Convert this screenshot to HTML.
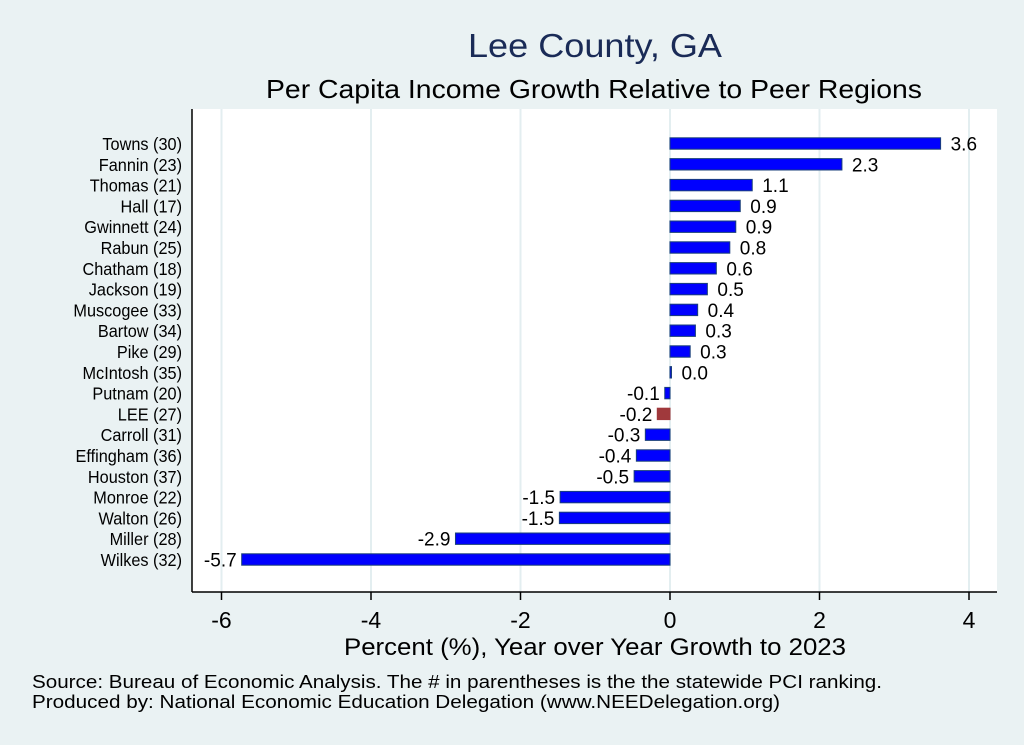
<!DOCTYPE html>
<html><head><meta charset="utf-8"><style>
body{margin:0;background:#eaf2f3;}
svg{display:block;font-family:"Liberation Sans",Arial,sans-serif;}
</style></head><body>
<svg id="chart" width="1024" height="745" viewBox="0 0 1024 745">
<rect x="0" y="0" width="1024" height="745" fill="#eaf2f3"/>
<text x="468" y="57" font-size="33" fill="#1a2b57" textLength="254" lengthAdjust="spacingAndGlyphs">Lee County, GA</text>
<text x="266" y="98" font-size="26" fill="#000" textLength="656" lengthAdjust="spacingAndGlyphs">Per Capita Income Growth Relative to Peer Regions</text>
<rect x="192" y="109" width="805" height="483" fill="#fff"/>
<g id="grid"></g>
<g id="bars"></g>
<line x1="192" y1="109" x2="192" y2="592" stroke="#000" stroke-width="1.5"/>
<line x1="192" y1="592" x2="997" y2="592" stroke="#000" stroke-width="1.5"/>
<g id="xticks"></g>
<text x="344" y="655" font-size="24" textLength="502" lengthAdjust="spacingAndGlyphs">Percent (%), Year over Year Growth to 2023</text>
<text x="32" y="688" font-size="18" textLength="850" lengthAdjust="spacingAndGlyphs">Source: Bureau of Economic Analysis. The # in parentheses is the the statewide PCI ranking.</text>
<text x="32" y="708" font-size="18" textLength="748" lengthAdjust="spacingAndGlyphs">Produced by: National Economic Education Delegation (www.NEEDelegation.org)</text>
</svg>
<script>
const categories=["Towns (30)","Fannin (23)","Thomas (21)","Hall (17)","Gwinnett (24)","Rabun (25)","Chatham (18)","Jackson (19)","Muscogee (33)","Bartow (34)","Pike (29)","McIntosh (35)","Putnam (20)","LEE (27)","Carroll (31)","Effingham (36)","Houston (37)","Monroe (22)","Walton (26)","Miller (28)","Wilkes (32)"];
const values=[3.62,2.3,1.1,0.94,0.88,0.8,0.62,0.5,0.37,0.34,0.27,0.02,-0.07,-0.17,-0.33,-0.45,-0.48,-1.47,-1.48,-2.87,-5.73];
const valueLabels=["3.6","2.3","1.1","0.9","0.9","0.8","0.6","0.5","0.4","0.3","0.3","0.0","-0.1","-0.2","-0.3","-0.4","-0.5","-1.5","-1.5","-2.9","-5.7"];
const highlight="LEE (27)";
const xTicks=[-6,-4,-2,0,2,4];
const NS="http://www.w3.org/2000/svg";
function xs(v){return 670+v*74.75;}
function ys(i){return 143.5+i*20.8;}
function mk(tag,attrs,parent,text){const e=document.createElementNS(NS,tag);for(const k in attrs)e.setAttribute(k,attrs[k]);if(text!==undefined)e.textContent=text;parent.appendChild(e);return e;}
const grid=document.getElementById('grid'),bars=document.getElementById('bars'),xt=document.getElementById('xticks');
xTicks.forEach(t=>{
  const g=mk('line',{x1:xs(t),x2:xs(t),y1:109,y2:592,stroke:'#e3eef0','stroke-width':2},grid);
  
  
  const tk=mk('line',{x1:xs(t),x2:xs(t),y1:592,y2:600,stroke:'#000','stroke-width':1.5},xt);
  
  
  const tl=mk('text',{x:xs(t),y:628,'font-size':23,'text-anchor':'middle'},xt,String(t));
  
  
});
categories.forEach((c,i)=>{
  const v=values[i],y=ys(i),x0=xs(0),x1=xs(v);
  const isH=c===highlight;
  const r=mk('rect',{x:Math.min(x0,x1),y:y-5.7,width:Math.max(Math.abs(x1-x0),1.5),height:11.4,fill:isH?'#a0393c':'#0000ff',stroke:isH?'#a0393c':'#1a3f7a','stroke-width':1},bars);
  
  
  const cl=mk('text',{x:182,y:y+6.5,'font-size':17.5,'text-anchor':'end'},bars,c);
  
  
  const w=cl.getComputedTextLength();
  if(w>0){cl.setAttribute('textLength',(w*0.93).toFixed(1));cl.setAttribute('lengthAdjust','spacingAndGlyphs');}
  const vl=mk('text',{x:v>=0?x1+10:x1-5,y:y+7,'font-size':19,'text-anchor':v>=0?'start':'end'},bars,valueLabels[i]);
  
  
});
</script>
</body></html>
